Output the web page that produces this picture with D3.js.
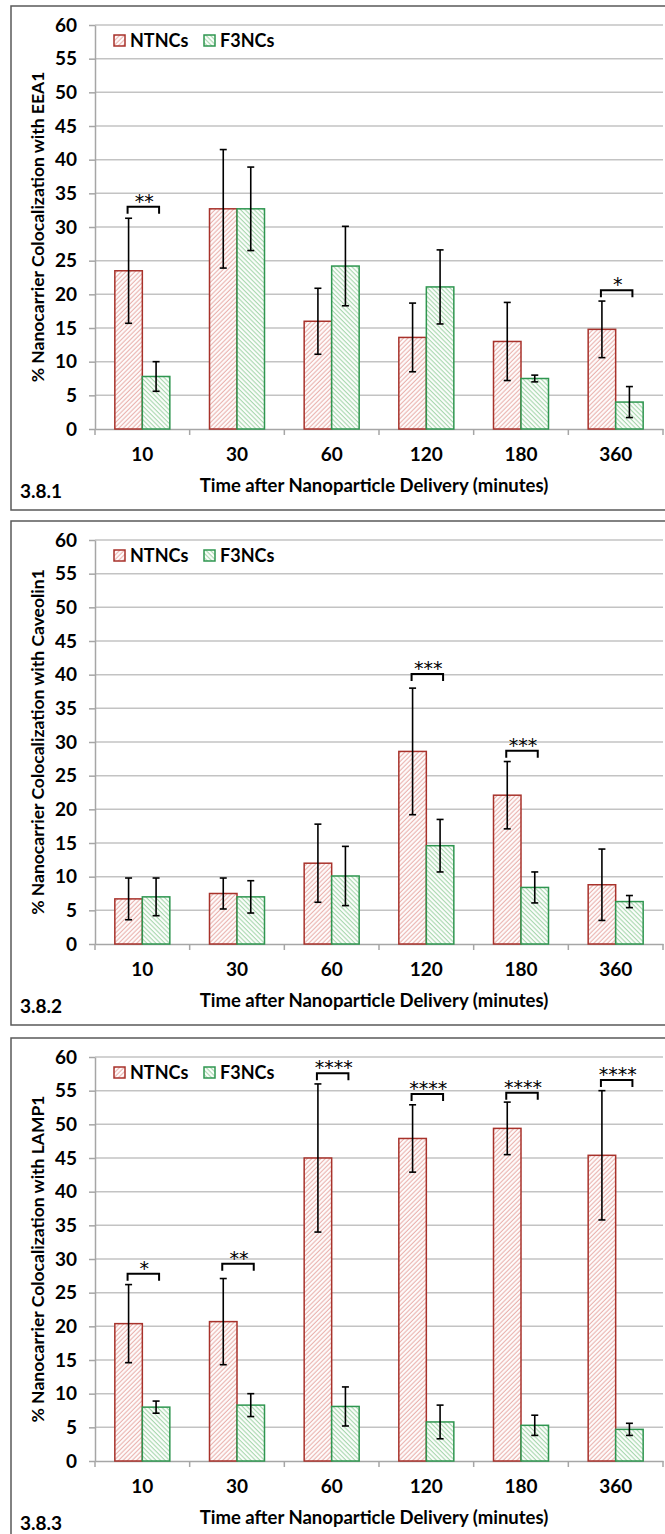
<!DOCTYPE html>
<html>
<head>
<meta charset="utf-8">
<script src="https://cdn.jsdelivr.net/npm/d3@7"></script>
<style>
  body { margin: 0; background: #fff; }
  text { font-family: Lato, 'Open Sans', sans-serif; font-weight: 700; fill: #000; }
</style>
</head>
<body>
<div class="chart"></div>
<script>
// data
const categories = ['10', '30', '60', '120', '180', '360']
const yTickValues = [0, 5, 10, 15, 20, 25, 30, 35, 40, 45, 50, 55, 60]
const seriesNames = ['NTNCs', 'F3NCs']

// 3.8.1 EEA1
const eea1NT = [23.5, 32.7, 16.0, 13.6, 13.0, 14.8]
const eea1NTErr = [7.8, 8.8, 4.9, 5.1, 5.8, 4.2]
const eea1F3 = [7.8, 32.7, 24.2, 21.1, 7.5, 4.0]
const eea1F3Err = [2.2, 6.2, 5.9, 5.5, 0.5, 2.3]
const eea1SigCats = ['10', '360']
const eea1SigLabels = ['**', '*']
const eea1SigLevels = [33.0, 20.6]

// 3.8.2 Caveolin1
const cavNT = [6.7, 7.5, 12.0, 28.6, 22.1, 8.8]
const cavNTErr = [3.1, 2.3, 5.8, 9.4, 5.0, 5.3]
const cavF3 = [7.0, 7.0, 10.1, 14.6, 8.4, 6.3]
const cavF3Err = [2.8, 2.4, 4.4, 3.9, 2.3, 0.9]
const cavSigCats = ['120', '180']
const cavSigLabels = ['***', '***']
const cavSigLevels = [40.1, 28.7]

// 3.8.3 LAMP1
const lampNT = [20.4, 20.7, 45.0, 47.9, 49.4, 45.4]
const lampNTErr = [5.8, 6.4, 11.0, 5.0, 3.9, 9.6]
const lampF3 = [8.0, 8.3, 8.1, 5.8, 5.3, 4.7]
const lampF3Err = [0.9, 1.7, 2.9, 2.5, 1.5, 0.9]
const lampSigCats = ['10', '30', '60', '120', '180', '360']
const lampSigLabels = ['*', '**', '****', '****', '****', '****']
const lampSigLevels = [27.8, 29.3, 57.6, 54.5, 54.7, 56.6]

const panels = [
  {top: 6, tag: '3.8.1', yTitle: '% Nanocarrier Colocalization with EEA1',
   nt: eea1NT, ntErr: eea1NTErr, f3: eea1F3, f3Err: eea1F3Err,
   sigCats: eea1SigCats, sigLabels: eea1SigLabels, sigLevels: eea1SigLevels},
  {top: 521, tag: '3.8.2', yTitle: '% Nanocarrier Colocalization with Caveolin1',
   nt: cavNT, ntErr: cavNTErr, f3: cavF3, f3Err: cavF3Err,
   sigCats: cavSigCats, sigLabels: cavSigLabels, sigLevels: cavSigLevels},
  {top: 1038, tag: '3.8.3', yTitle: '% Nanocarrier Colocalization with LAMP1',
   nt: lampNT, ntErr: lampNTErr, f3: lampF3, f3Err: lampF3Err,
   sigCats: lampSigCats, sigLabels: lampSigLabels, sigLevels: lampSigLevels}
]

const width = 665
const height = 1534
const plotLeft = 95
const plotRight = 663
const plotH = 404

const colors = {
  NTNCs: {stroke: '#a8322b', hatch: '#eab4b0'},
  F3NCs: {stroke: '#2f9650', hatch: '#a9d8af'}
}

const svg = d3.select('.chart')
  .append('svg')
    .attr('width', width)
    .attr('height', height)

// hatch fills, NTNCs "/" and F3NCs "\"
const defs = svg.append('defs')
seriesNames.forEach((s, i) => {
  const p = defs.append('pattern')
    .attr('id', 'hatch' + i)
    .attr('patternUnits', 'userSpaceOnUse')
    .attr('width', 3.2)
    .attr('height', 3.2)
    .attr('patternTransform', `rotate(${i === 0 ? 45 : -45})`)
  p.append('rect').attr('width', 3.2).attr('height', 3.2).attr('fill', '#fff')
  p.append('line')
    .attr('x1', 1.1).attr('x2', 1.1).attr('y1', 0).attr('y2', 3.2)
    .attr('stroke', colors[s].hatch)
    .attr('stroke-width', 1.2)
})

const xScale = d3.scaleBand()
  .domain(categories)
  .range([plotLeft, plotRight])

const barW = 27.5
const xSub = d3.scaleBand()
  .domain(seriesNames)
  .range([xScale.bandwidth() / 2 - barW, xScale.bandwidth() / 2 + barW])

const yScale = d3.scaleLinear()
  .domain([0, 60])
  .range([plotH, 0])

panels.forEach(panel => drawPanel(panel))

function drawPanel(panel) {
  const g = svg.append('g')
    .attr('transform', `translate(0, ${panel.top + 19})`)

  // frame
  g.append('rect')
    .attr('x', 11)
    .attr('y', -19)
    .attr('width', 700)
    .attr('height', 504)
    .attr('fill', 'none')
    .attr('stroke', '#595959')
    .attr('stroke-width', 1.5)

  // grid
  g.append('g')
    .selectAll('line')
    .data(yTickValues.filter(v => v > 0))
    .enter()
    .append('line')
      .attr('x1', plotLeft)
      .attr('x2', plotRight)
      .attr('y1', d => yScale(d))
      .attr('y2', d => yScale(d))
      .attr('stroke', '#c3c3c3')
      .attr('stroke-width', 1.5)

  // y axis
  const yAxis = g.append('g')
    .attr('transform', `translate(${plotLeft}, 0)`)
    .call(d3.axisLeft(yScale).tickValues(yTickValues).tickSize(6).tickPadding(12).tickSizeOuter(0))
  yAxis.select('.domain').attr('stroke', '#a6a6a6').attr('stroke-width', 1.5)
  yAxis.selectAll('.tick line').attr('stroke', '#a6a6a6').attr('stroke-width', 1.5)
  yAxis.selectAll('.tick text')
    .style('font-size', '19px')
    .style('font-family', 'Lato, sans-serif')
    .style('font-weight', 700)
    .attr('fill', '#000')

  // x axis
  const xAxis = g.append('g')
    .attr('transform', `translate(0, ${plotH})`)
    .call(d3.axisBottom(xScale).tickSize(0).tickPadding(19).tickSizeOuter(0))
  xAxis.select('.domain').attr('stroke', '#a6a6a6').attr('stroke-width', 1.5)
  xAxis.selectAll('.tick text')
    .style('font-size', '19px')
    .style('font-family', 'Lato, sans-serif')
    .style('font-weight', 700)
    .attr('fill', '#000')
  xAxis.selectAll('.bound')
    .data(categories.concat(['end']))
    .enter()
    .append('line')
      .attr('class', 'bound')
      .attr('x1', d => d === 'end' ? plotRight : xScale(d))
      .attr('x2', d => d === 'end' ? plotRight : xScale(d))
      .attr('y1', 0)
      .attr('y2', 6)
      .attr('stroke', '#a6a6a6')
      .attr('stroke-width', 1.5)

  // bars
  const rows = categories.map((c, i) => [
    {cat: c, s: 'NTNCs', v: panel.nt[i], e: panel.ntErr[i]},
    {cat: c, s: 'F3NCs', v: panel.f3[i], e: panel.f3Err[i]}
  ]).flat()

  g.append('g')
    .selectAll('rect')
    .data(rows)
    .enter()
    .append('rect')
      .attr('x', d => xScale(d.cat) + xSub(d.s))
      .attr('y', d => yScale(d.v))
      .attr('width', xSub.bandwidth())
      .attr('height', d => yScale(0) - yScale(d.v))
      .attr('fill', d => `url(#hatch${seriesNames.indexOf(d.s)})`)
      .attr('stroke', d => colors[d.s].stroke)
      .attr('stroke-width', 1.5)

  // error bars
  const eb = g.append('g')
    .selectAll('g')
    .data(rows)
    .enter()
    .append('g')
      .attr('transform', d => `translate(${xScale(d.cat) + xSub(d.s) + xSub.bandwidth() / 2}, 0)`)
  eb.append('line')
    .attr('y1', d => yScale(d.v - d.e))
    .attr('y2', d => yScale(d.v + d.e))
  eb.append('line')
    .attr('x1', -3.5).attr('x2', 3.5)
    .attr('y1', d => yScale(d.v + d.e))
    .attr('y2', d => yScale(d.v + d.e))
  eb.append('line')
    .attr('x1', -3.5).attr('x2', 3.5)
    .attr('y1', d => yScale(d.v - d.e))
    .attr('y2', d => yScale(d.v - d.e))
  eb.selectAll('line').attr('stroke', '#000').attr('stroke-width', 1.6)

  // significance brackets
  const sig = panel.sigCats.map((c, i) => ({cat: c, label: panel.sigLabels[i], level: panel.sigLevels[i]}))
  const sg = g.append('g')
    .selectAll('g')
    .data(sig)
    .enter()
    .append('g')
  sg.append('path')
    .attr('d', d => {
      const x0 = xScale(d.cat) + xSub('NTNCs') + xSub.bandwidth() / 2 - 1
      const x1 = xScale(d.cat) + xSub('F3NCs') + xSub.bandwidth() / 2 + 3
      const y = yScale(d.level)
      return `M${x0},${y + 7}V${y}H${x1}V${y + 7}`
    })
    .attr('fill', 'none')
    .attr('stroke', '#000')
    .attr('stroke-width', 2)
  sg.append('text')
    .attr('x', d => xScale(d.cat) + xScale.bandwidth() / 2 + 2)
    .attr('y', d => yScale(d.level) + 1)
    .attr('text-anchor', 'middle')
    .style('font-family', "'DejaVu Sans', sans-serif")
    .style('font-size', '19px')
    .style('font-weight', 400)
    .text(d => d.label)

  // legend
  const lg = g.append('g')
    .selectAll('g')
    .data(seriesNames)
    .enter()
    .append('g')
      .attr('transform', (d, i) => `translate(${[114, 204][i]}, 10)`)
  lg.append('rect')
    .attr('width', 11)
    .attr('height', 11)
    .attr('fill', (d, i) => `url(#hatch${i})`)
    .attr('stroke', d => colors[d].stroke)
    .attr('stroke-width', 1.5)
  lg.append('text')
    .attr('x', 16)
    .attr('y', 12)
    .style('font-size', '18px')
    .text(d => d)

  // titles
  g.append('text')
    .attr('transform', `translate(44, ${plotH / 2}) rotate(-90)`)
    .attr('text-anchor', 'middle')
    .style('font-size', '17.5px')
    .text(panel.yTitle)

  g.append('text')
    .attr('x', (plotLeft + plotRight) / 2 - 5)
    .attr('y', plotH + 63)
    .attr('text-anchor', 'middle')
    .style('font-size', '18.5px')
    .text('Time after Nanoparticle Delivery (minutes)')

  g.append('text')
    .attr('x', 20)
    .attr('y', plotH + 69)
    .style('font-size', '19px')
    .text(panel.tag)
}
</script>
</body>
</html>
